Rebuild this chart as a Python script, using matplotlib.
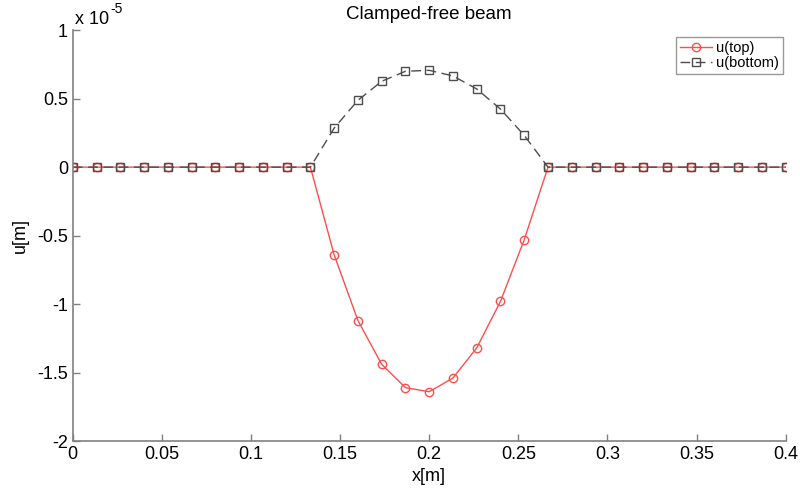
import matplotlib.pyplot as plt
import numpy as np
from matplotlib.ticker import FuncFormatter

plt.rcParams['font.family'] = ['Liberation Sans', 'DejaVu Sans']

# node positions along the beam [m]
x = np.linspace(0, 0.4, 31)

# displacements in units of 1e-5 m
u_top = [0, 0, 0, 0, 0, 0, 0, 0, 0, 0, 0,
         -0.64, -1.12, -1.44, -1.61, -1.64, -1.54, -1.32, -0.98, -0.53, 0,
         0, 0, 0, 0, 0, 0, 0, 0, 0, 0]
u_bottom = [0, 0, 0, 0, 0, 0, 0, 0, 0, 0, 0,
            0.285, 0.488, 0.627, 0.70, 0.707, 0.666, 0.571, 0.424, 0.232, 0,
            0, 0, 0, 0, 0, 0, 0, 0, 0, 0]

xticks = [0, 0.05, 0.1, 0.15, 0.2, 0.25, 0.3, 0.35, 0.4]
yticks = [-2, -1.5, -1, -0.5, 0, 0.5, 1]

fig = plt.figure(figsize=(8, 4.95), dpi=100)
ax = fig.add_axes([0.091, 0.109, 0.891, 0.830])

ax.plot(x, u_top, color='#ff4d4d', lw=1, marker='o', ms=6,
        mfc='none', mec='#ff4d4d', mew=1, label='u(top)')
ax.plot(x, u_bottom, color='#4d4d4d', lw=1, ls=(0, (7, 4)), marker='s', ms=5.5,
        mfc='none', mec='#4d4d4d', mew=1, label='u(bottom)')

ax.set_xlim(0, 0.4)
ax.set_ylim(-2, 1)
ax.set_xticks(xticks)
ax.set_yticks(yticks)
fmt = FuncFormatter(lambda v, p: '%g' % v)
ax.xaxis.set_major_formatter(fmt)
ax.yaxis.set_major_formatter(fmt)
ax.tick_params(direction='in', length=5, width=1, color='#808080', labelsize=13)
for s in ['top', 'right']:
    ax.spines[s].set_visible(False)
for s in ['left', 'bottom']:
    ax.spines[s].set_color('#808080')
    ax.spines[s].set_linewidth(1.2)

ax.set_title('Clamped-free beam', fontsize=13.5, pad=8)
ax.set_xlabel('x[m]', fontsize=13, labelpad=4)
ax.set_ylabel('u[m]', fontsize=13, labelpad=6)
ax.text(0.003, 1.005, 'x 10', transform=ax.transAxes, fontsize=13,
        ha='left', va='bottom')
ax.text(0.053, 1.035, '-5', transform=ax.transAxes, fontsize=10,
        ha='left', va='bottom')

leg = ax.legend(loc='upper right', bbox_to_anchor=(1.0, 0.99), fontsize=10.5,
                fancybox=False, edgecolor='#808080', handlelength=2.2,
                handletextpad=0.3, borderpad=0.25, labelspacing=0.1,
                borderaxespad=0.2)
leg.get_frame().set_linewidth(1)

plt.savefig('out.png', dpi=100)
